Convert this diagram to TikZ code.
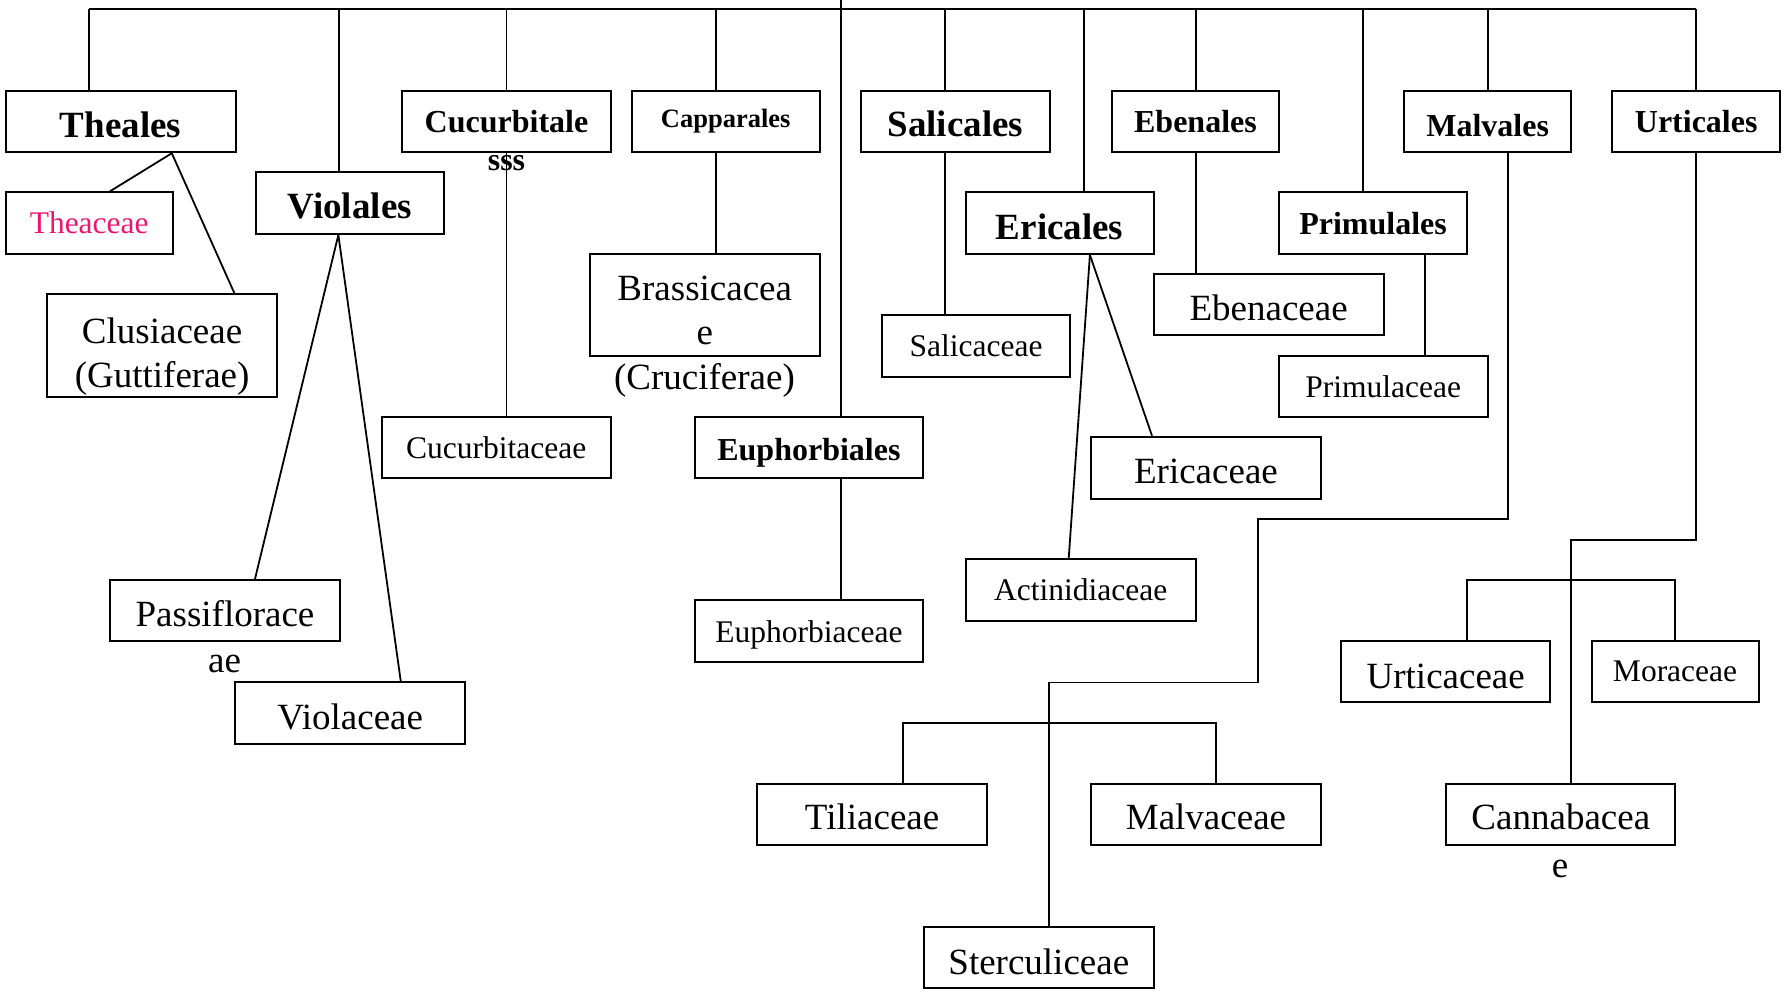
\documentclass[tikz,border=0pt]{standalone}
\usepackage{fontspec}
\setmainfont{Liberation Serif}
\usetikzlibrary{calc}
\definecolor{pinktext}{RGB}{236,22,112}
\newcommand{\fL}{\fontsize{37}{44}\selectfont}
\newcommand{\fM}{\fontsize{31.5}{38}\selectfont}
\newcommand{\fBL}{\fontsize{37}{44}\selectfont\bfseries}
\newcommand{\fBM}{\fontsize{32}{38}\selectfont\bfseries}
\newcommand{\fBS}{\fontsize{26.5}{32}\selectfont\bfseries}
\newcommand{\bl}[2]{\raisebox{#1pt}[0pt][0pt]{#2}}
\begin{document}
\begin{tikzpicture}[x=1pt,y=-1pt,
  box/.style={draw, line width=2pt, inner sep=0pt, minimum height=61.5pt},
  lg/.style={font=\fL},
  lgb/.style={font=\fBL},
  conn/.style={line width=1.8pt}]
\useasboundingbox (0,0) rectangle (1787,995);

% order boxes
\node[box, lgb, minimum width=230.2pt] (theales) at (120.6,121.5) {\bl{-16}{Theales}};
\node[box, minimum width=167.3pt, font=\fM, text=pinktext] (theaceae) at (89.2,223.2) {Theaceae};
\node[box, minimum width=230.2pt, minimum height=103pt, font=\fL] (clusiaceae) at (162.1,345.5)
  {\bl{2.5}{\begin{tabular}[t]{@{}c@{}}Clusiaceae\\(Guttiferae)\end{tabular}}};
\node[box, lgb, minimum width=187.9pt] (violales) at (349.8,203.2) {\bl{-15.5}{Violales}};
\node[box, minimum width=209.6pt, font=\fBM] (cucurbitales) at (506.5,121.5) {Cucurbitale};
\node[box, minimum width=187.8pt, font=\fBS] (capparales) at (725.7,121.5) {Capparales};
\node[box, minimum width=229.7pt, minimum height=102pt, font=\fL] (brassicaceae) at (704.75,305)
  {\bl{4.5}{\begin{tabular}[t]{@{}c@{}}Brassicacea\\e\end{tabular}}};
\node[box, lgb, minimum width=188.7pt] (salicales) at (955.35,121.5) {\bl{-15.5}{Salicales}};
\node[box, minimum width=188.6pt, font=\fM] (salicaceae) at (976,345.85) {Salicaceae};
\node[box, lgb, minimum width=188.2pt] (ericales) at (1059.6,223.2) {\bl{-16}{Ericales}};
\node[box, minimum width=167.3pt, font=\fBM] (ebenales) at (1195.45,121.5) {Ebenales};
\node[box, lg, minimum width=229.9pt, minimum height=61pt] (ebenaceae) at (1268.65,304.5) {\bl{-15.5}{Ebenaceae}};
\node[box, minimum width=188.6pt, font=\fBM] (primulales) at (1373,223.2) {Primulales};
\node[box, minimum width=209.1pt, font=\fM] (primulaceae) at (1383.25,386.5) {Primulaceae};
\node[box, minimum width=167.6pt, font=\fBM] (malvales) at (1487.6,121.5) {\bl{-15}{Malvales}};
\node[box, minimum width=167.6pt, font=\fBM] (urticales) at (1696.2,121.5) {Urticales};
\node[box, lg, minimum width=229.6pt] (passifloraceae) at (225,610.65) {\bl{-15.5}{Passiflorace}};
\node[box, lg, minimum width=229.6pt, minimum height=61.1pt] (violaceae) at (350.2,713) {\bl{-16}{Violaceae}};
\node[box, minimum width=229.1pt, font=\fM] (cucurbitaceae) at (496.25,447.45) {Cucurbitaceae};
\node[box, minimum width=228.6pt, font=\fBM] (euphorbiales) at (808.9,447.45) {\bl{-13}{Euphorbiales}};
\node[box, minimum width=228.6pt, font=\fM] (euphorbiaceae) at (808.9,631.15) {\bl{-11}{Euphorbiaceae}};
\node[box, lg, minimum width=229.7pt, minimum height=62.2pt] (ericaceae) at (1205.95,467.9) {\bl{-16}{Ericaceae}};
\node[box, minimum width=230.2pt, font=\fM] (actinidiaceae) at (1080.7,590.15) {Actinidiaceae};
\node[box, lg, minimum width=229.8pt, minimum height=60.8pt] (tiliaceae) at (872.1,814.4) {\bl{-15.5}{Tiliaceae}};
\node[box, lg, minimum width=229.7pt, minimum height=60.8pt] (malvaceae) at (1205.95,814.4) {\bl{-15.5}{Malvaceae}};
\node[box, minimum width=229.6pt, minimum height=60.7pt, font=\fL] (sterculiceae) at (1038.8,957.15) {\bl{-17}{Sterculiceae}};
\node[box, minimum width=209.4pt, font=\fL] (urticaceae) at (1445.7,671.55) {\bl{-17}{Urticaceae}};
\node[box, minimum width=167.1pt, font=\fM] (moraceae) at (1675.05,671.55) {Moraceae};
\node[box, lg, minimum width=229pt, minimum height=60.8pt] (cannabaceae) at (1560.8,814.4) {\bl{-15.5}{Cannabacea}};

% overflowing text
\node[font=\fBM, anchor=base, inner sep=0pt] (sss) at (506.5,171) {sss};
\node[font=\fL, anchor=base, inner sep=0pt] (cruciferae) at (704.5,389.5) {(Cruciferae)};
\node[font=\fL, anchor=base, inner sep=0pt] (passae) at (224.5,672) {ae};
\node[font=\fL, anchor=base, inner sep=0pt] (cannae) at (1560,877) {e};

% top bar and trunk
\coordinate (tL) at (89,9.3);
\coordinate (tR) at (1696.2,9.3);
\coordinate (root) at (840.6,0);
\coordinate (dViol) at (339.3,9.3);
\coordinate (dCuc) at (506.5,9.3);
\coordinate (dCap) at (715.6,9.3);
\coordinate (dSal) at (945,9.3);
\coordinate (dEri) at (1084.2,9.3);
\coordinate (dEbe) at (1195.6,9.3);
\coordinate (dPri) at (1362.7,9.3);
\coordinate (dMal) at (1487.8,9.3);
\coordinate (pP) at (1424.7,9.3);

\draw[conn] (tL) -- (tR);
\draw[conn] (root) -- (root |- euphorbiales.north);
\draw[conn] (root |- euphorbiales.south) -- (root |- euphorbiaceae.north);
\draw[conn] (tL) -- (tL |- theales.north);
\draw[conn] (dViol) -- (dViol |- violales.north);
\draw[conn] (dCuc) -- (dCuc |- cucurbitales.north);
\draw[conn] (dCuc |- cucurbitales.south) -- (dCuc |- cucurbitaceae.north);
\draw[conn] (dCap) -- (dCap |- capparales.north);
\draw[conn] (dCap |- capparales.south) -- (dCap |- brassicaceae.north);
\draw[conn] (dSal) -- (dSal |- salicales.north);
\draw[conn] (dSal |- salicales.south) -- (dSal |- salicaceae.north);
\draw[conn] (dEri) -- (dEri |- ericales.north);
\draw[conn] (dEbe) -- (dEbe |- ebenales.north);
\draw[conn] (dEbe |- ebenales.south) -- (dEbe |- ebenaceae.north);
\draw[conn] (dPri) -- (dPri |- primulales.north);
\draw[conn] (pP |- primulales.south) -- (pP |- primulaceae.north);
\draw[conn] (dMal) -- (dMal |- malvales.north);
\draw[conn] (tR) -- (tR |- urticales.north);

% fans
\coordinate (thB) at ($(theales.south west)+(167.3,0)$);
\draw[conn] (thB) -- ($(theaceae.north west)+(105.2,0)$);
\draw[conn] (thB) -- ($(clusiaceae.north west)+(188.3,0)$);
\coordinate (viB) at ($(violales.south west)+(83.5,0)$);
\draw[conn] (viB) -- ($(passifloraceae.north west)+(145.8,0)$);
\draw[conn] (viB) -- ($(violaceae.north west)+(166.4,0)$);
\coordinate (erB) at ($(ericales.south west)+(125.4,0)$);
\draw[conn] (erB) -- ($(actinidiaceae.north west)+(104.1,0)$);
\draw[conn] (erB) -- ($(ericaceae.north west)+(61.9,0)$);

% Malvales branch
\coordinate (m1) at (1508.2,518.8);
\coordinate (m2) at (1258.3,518.8);
\coordinate (m3) at (1258.3,682.4);
\coordinate (m4) at (1048.9,682.4);
\draw[conn] (m1 |- malvales.south) -- (m1) -- (m2) -- (m3) -- (m4) -- (m4 |- sterculiceae.north);
\coordinate (b1) at (903.1,723);
\coordinate (b2) at (1216.1,723);
\draw[conn] (b1 |- tiliaceae.north) -- (b1) -- (b2) -- (b2 |- malvaceae.north);

% Urticales branch
\coordinate (u1) at (1696.2,539.7);
\coordinate (u2) at (1571.2,539.7);
\draw[conn] (u1 |- urticales.south) -- (u1) -- (u2) -- (u2 |- cannabaceae.north);
\coordinate (v1) at (1467.1,580.3);
\coordinate (v2) at (1674.8,580.3);
\draw[conn] (v1 |- urticaceae.north) -- (v1) -- (v2) -- (v2 |- moraceae.north);
\end{tikzpicture}
\end{document}
